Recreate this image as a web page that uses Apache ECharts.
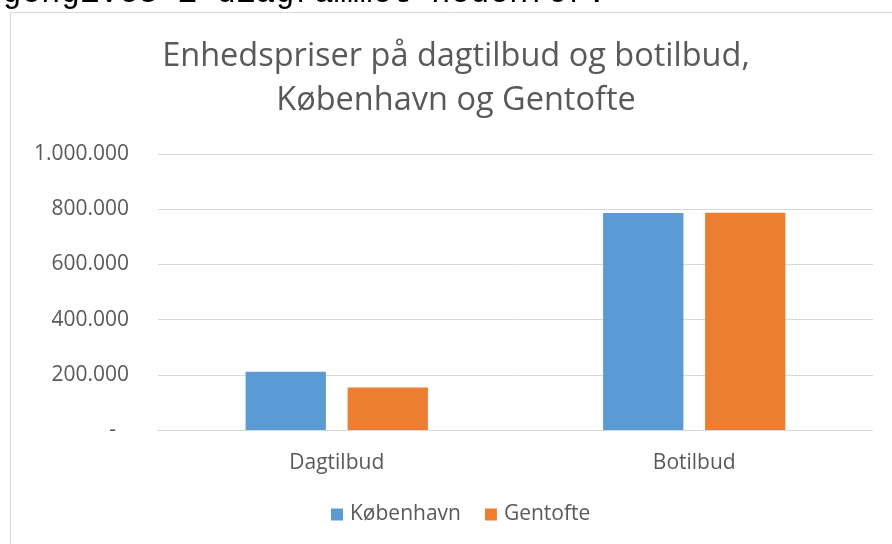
<!DOCTYPE html>
<html><head><meta charset="utf-8">
<script src="https://cdn.jsdelivr.net/npm/echarts@6/dist/echarts.min.js"></script>
<style>html,body{margin:0;padding:0;background:#fff}#c{width:892px;height:544px}</style>
</head><body><div id="c"></div>
<script>
var categories = ['Dagtilbud', 'Botilbud'];
var kobenhavn = [211000, 786000];
var gentofte = [154000, 787000];
var seriesNames = ['København', 'Gentofte'];
var titleLines = ['Enhedspriser på dagtilbud og botilbud,', 'København og Gentofte'];
var topText = 'gengives i diagrammet nedenfor:';

var chart = echarts.init(document.getElementById('c'));
var font = 'Open Sans';
chart.setOption({
  animation: false,
  backgroundColor: '#fff',
  graphic: [
    { type: 'rect', silent: true, shape: { x: 10.5, y: 12.5, width: 900, height: 600 },
      style: { fill: 'none', stroke: '#D9D9D9', lineWidth: 1 } },
    { type: 'text', silent: true, left: 2, top: -23,
      style: { text: topText, font: '32.5px "Liberation Mono"', fill: '#000' } }
  ],
  title: {
    text: titleLines.join('\n'),
    left: 451, top: 30, textAlign: 'center',
    textStyle: { fontFamily: font, fontSize: 32.5, fontWeight: 'normal', color: '#595959', lineHeight: 44 }
  },
  legend: {
    data: seriesNames,
    bottom: 14, left: 326,
    itemWidth: 12, itemHeight: 12, itemGap: 24,
    icon: 'rect',
    textStyle: { fontFamily: font, fontSize: 21, color: '#595959', padding: [0, 0, 0, 2] }
  },
  grid: { left: 158, right: 19, top: 154, bottom: 114, containLabel: false },
  xAxis: {
    type: 'category', data: categories,
    axisLine: { lineStyle: { color: '#D9D9D9', width: 1 } },
    axisTick: { show: false },
    axisLabel: { fontFamily: font, fontSize: 21, color: '#595959', margin: 23 }
  },
  yAxis: {
    type: 'value', min: 0, max: 1000000, interval: 200000,
    axisLine: { show: false }, axisTick: { show: false },
    splitLine: { lineStyle: { color: '#D9D9D9', width: 1 } },
    axisLabel: {
      fontFamily: font, fontSize: 21, color: '#595959', margin: 29,
      formatter: function (v) {
        if (v === 0) return '{z|-}';
        return String(v).replace(/\B(?=(\d{3})+(?!\d))/g, '.');
      },
      rich: { z: { fontFamily: font, fontSize: 21, color: '#595959', padding: [0, 13, 0, 0] } }
    }
  },
  series: [
    { name: seriesNames[0], type: 'bar', data: kobenhavn, itemStyle: { color: '#5B9BD5' },
      barGap: '27%', barCategoryGap: '49%' },
    { name: seriesNames[1], type: 'bar', data: gentofte, itemStyle: { color: '#ED7D31' },
      barGap: '27%', barCategoryGap: '49%' }
  ]
});
</script></body></html>
